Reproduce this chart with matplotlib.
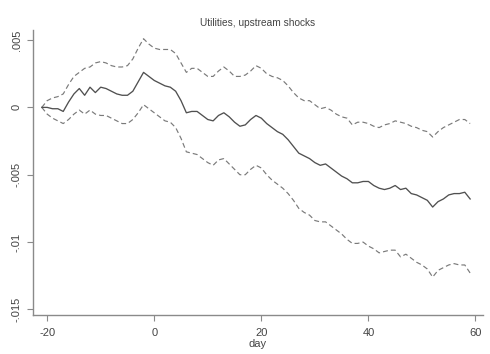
import matplotlib
matplotlib.use("Agg")
import matplotlib.pyplot as plt

days = list(range(-21, 60))

estimate = [
    0.0000, 0.0000, -0.0001, -0.0001, -0.0003, 0.0004, 0.0010, 0.0014, 0.0009, 0.0015,
    0.0011, 0.0015, 0.0014, 0.0012, 0.0010, 0.0009, 0.0009, 0.0012, 0.0019, 0.0026,
    0.0023, 0.0020, 0.0018, 0.0016, 0.0015, 0.0012, 0.0005, -0.0004, -0.0003, -0.0003,
    -0.0006, -0.0009, -0.0010, -0.0006, -0.0004, -0.0007, -0.0011, -0.0014, -0.0013, -0.0009,
    -0.0006, -0.0008, -0.0012, -0.0015, -0.0018, -0.0020, -0.0024, -0.0029, -0.0034, -0.0036,
    -0.0038, -0.0041, -0.0043, -0.0042, -0.0045, -0.0048, -0.0051, -0.0053, -0.0056, -0.0056,
    -0.0055, -0.0055, -0.0058, -0.0060, -0.0061, -0.0060, -0.0058, -0.0061, -0.0060, -0.0064,
    -0.0065, -0.0067, -0.0069, -0.0074, -0.0070, -0.0068, -0.0065, -0.0064, -0.0064, -0.0063,
    -0.0068,
]

upper = [
    0.0000, 0.0005, 0.0007, 0.0008, 0.0010, 0.0017, 0.0023, 0.0026, 0.0029, 0.0030,
    0.0033, 0.0034, 0.0033, 0.0031, 0.0030, 0.0030, 0.0031, 0.0036, 0.0044, 0.0051,
    0.0047, 0.0044, 0.0043, 0.0043, 0.0043, 0.0040, 0.0033, 0.0026, 0.0029, 0.0029,
    0.0026, 0.0023, 0.0023, 0.0027, 0.0030, 0.0027, 0.0023, 0.0023, 0.0024, 0.0027,
    0.0031, 0.0029, 0.0025, 0.0023, 0.0022, 0.0020, 0.0016, 0.0011, 0.0007, 0.0005,
    0.0005, 0.0002, -0.0001, 0.0000, -0.0002, -0.0005, -0.0007, -0.0008, -0.0013, -0.0011,
    -0.0011, -0.0012, -0.0014, -0.0015, -0.0013, -0.0012, -0.0010, -0.0011, -0.0012, -0.0014,
    -0.0015, -0.0017, -0.0018, -0.0022, -0.0018, -0.0015, -0.0013, -0.0011, -0.0009, -0.0009,
    -0.0012,
]

lower = [
    0.0000, -0.0005, -0.0008, -0.0010, -0.0012, -0.0009, -0.0005, -0.0002, -0.0005, -0.0002,
    -0.0005, -0.0006, -0.0006, -0.0008, -0.0010, -0.0012, -0.0012, -0.0009, -0.0004, 0.0002,
    -0.0001, -0.0004, -0.0007, -0.0010, -0.0011, -0.0015, -0.0023, -0.0033, -0.0034, -0.0035,
    -0.0038, -0.0041, -0.0043, -0.0039, -0.0038, -0.0042, -0.0046, -0.0050, -0.0050, -0.0046,
    -0.0043, -0.0045, -0.0050, -0.0054, -0.0057, -0.0060, -0.0064, -0.0069, -0.0075, -0.0078,
    -0.0080, -0.0084, -0.0085, -0.0085, -0.0088, -0.0091, -0.0094, -0.0098, -0.0101, -0.0101,
    -0.0100, -0.0103, -0.0105, -0.0108, -0.0107, -0.0106, -0.0106, -0.0111, -0.0109, -0.0112,
    -0.0115, -0.0117, -0.0120, -0.0126, -0.0121, -0.0119, -0.0117, -0.0116, -0.0117, -0.0117,
    -0.0123,
]

x_ticks = [-20, 0, 20, 40, 60]
y_ticks = [0.005, 0.0, -0.005, -0.01, -0.015]
y_tick_labels = [".005", "0", "-.005", "-.01", "-.015"]

plt.rcParams["font.family"] = ["Liberation Sans", "DejaVu Sans"]

fig = plt.figure(figsize=(4.9, 3.54), dpi=100)
ax = fig.add_axes([0.0673, 0.110, 0.9184, 0.805])

axis_color = "#8a8a8a"
text_color = "#444444"
ax.plot(days, upper, color="#7a7a7a", lw=0.85, dashes=(4.2, 2.6))
ax.plot(days, lower, color="#7a7a7a", lw=0.85, dashes=(4.2, 2.6))
ax.plot(days, estimate, color="#505050", lw=0.95)

ax.set_xlim(-22.65, 61.4)
ax.set_ylim(-0.01542, 0.00574)

ax.set_xticks(x_ticks)
ax.set_xticklabels([str(t) for t in x_ticks])
ax.set_yticks(y_ticks)
ax.set_yticklabels(y_tick_labels, rotation=90, va="center")

for side in ("top", "right"):
    ax.spines[side].set_visible(False)
for side in ("left", "bottom"):
    ax.spines[side].set_color(axis_color)
    ax.spines[side].set_linewidth(1.0)

ax.tick_params(axis="both", colors=axis_color, length=4, width=0.8,
               labelsize=8, labelcolor=text_color)
ax.tick_params(axis="x", pad=5)
ax.tick_params(axis="y", pad=4)

ax.set_xlabel("day", fontsize=8, color=text_color, labelpad=1)
ax.set_title("Utilities, upstream shocks", fontsize=7.3, color=text_color, pad=3)

fig.savefig("out.png", dpi=100, facecolor="white")
